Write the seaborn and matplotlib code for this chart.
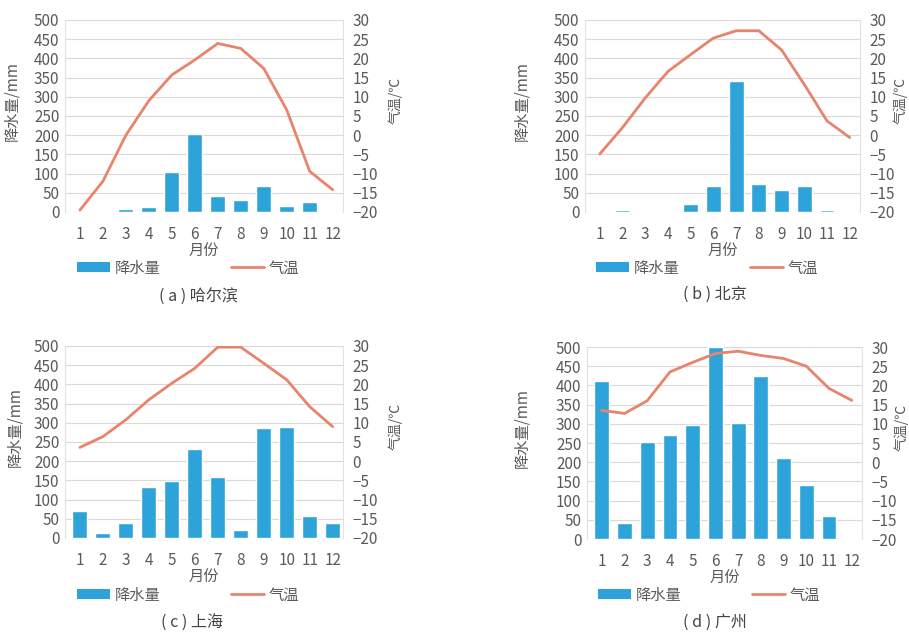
import numpy as np
import pandas as pd
import matplotlib
matplotlib.use("Agg")
import matplotlib.pyplot as plt
import seaborn as sns
from matplotlib.patches import Patch
from matplotlib.lines import Line2D

sns.set_theme(style="white")
plt.rcParams['font.family'] = ['Noto Sans CJK SC', 'DejaVu Sans']
plt.rcParams['axes.unicode_minus'] = True

months = [str(i) for i in range(1, 13)]

harbin_precip = [2, 3, 9, 14, 105, 204, 42, 31, 68, 15, 27, 2]
harbin_temp = [-19.5, -12.0, 0.0, 9.0, 15.7, 19.6, 23.9, 22.6, 17.4, 6.6, -9.4, -14.2]

beijing_precip = [0, 4, 0, 3, 20, 69, 342, 72, 56, 67, 4, 1]
beijing_temp = [-4.9, 2.0, 9.7, 16.6, 21.0, 25.3, 27.2, 27.2, 22.2, 13.2, 3.7, -0.6]

shanghai_precip = [70, 12, 40, 134, 149, 232, 158, 22, 286, 290, 56, 40]
shanghai_temp = [3.6, 6.4, 10.8, 16.0, 20.3, 24.2, 29.7, 29.7, 25.5, 21.2, 14.2, 9.0]

guangzhou_precip = [411, 42, 253, 272, 296, 500, 301, 425, 210, 140, 61, 3]
guangzhou_temp = [13.5, 12.7, 16.0, 23.5, 26.0, 28.3, 28.9, 27.8, 27.0, 25.0, 19.2, 16.1]

captions = ["( a ) 哈尔滨", "( b ) 北京", "( c ) 上海", "( d ) 广州"]
precip_ticks = [0, 50, 100, 150, 200, 250, 300, 350, 400, 450, 500]
temp_ticks = [-20, -15, -10, -5, 0, 5, 10, 15, 20, 25, 30]

BAR = "#2EA3DA"
LINE = "#E8836C"
TXT = "#5a5a5a"

W, H = 909, 633
fig = plt.figure(figsize=(W / 100, H / 100), dpi=100)

# panel pixel boxes: left, top, right, bottom
boxes = [(65, 20, 343, 212), (585, 20, 860, 212), (65, 346, 343, 538), (587, 347, 862, 539)]
legend_y = [268, 268, 595, 595]
legend_x = [188, 707, 188, 709]
caption_pos = [(198, 296), (715, 294), (192, 623), (715, 622)]
left_label_x = [20, 530, 23, 530]
right_label_x = [388, 893, 388, 894]

data = [(harbin_precip, harbin_temp), (beijing_precip, beijing_temp),
        (shanghai_precip, shanghai_temp), (guangzhou_precip, guangzhou_temp)]

for i, ((p, t), (l, tp, r, b)) in enumerate(zip(data, boxes)):
    ax = fig.add_axes([l / W, 1 - b / H, (r - l) / W, (b - tp) / H])
    df = pd.DataFrame({"月份": months, "降水量": p, "气温": t})
    sns.barplot(data=df, x="月份", y="降水量", color=BAR, saturation=1, width=0.65, ax=ax, zorder=2)
    ax.set_ylim(0, 500)
    ax.set_xlim(-0.65, 11.45)
    ax.set_yticks(precip_ticks)
    ax.yaxis.grid(True, color="#d9d9d9", lw=0.8, zorder=0)
    ax.set_axisbelow(True)
    ax.tick_params(axis="y", length=0, labelsize=11, labelcolor=TXT, pad=4)
    ax.tick_params(axis="x", length=0, labelsize=11, labelcolor=TXT, pad=10)
    ax.set_ylabel("降水量/mm", fontsize=11, color=TXT)
    ax.yaxis.set_label_coords((left_label_x[i] - l) / (r - l), 0.58)
    ax.set_xlabel("月份", fontsize=11, color=TXT, labelpad=0)
    for s in ["top", "bottom"]:
        ax.spines[s].set_visible(False)
    for s in ["left", "right"]:
        ax.spines[s].set_color("#e2e2e2")
        ax.spines[s].set_linewidth(0.8)

    ax2 = ax.twinx()
    sns.lineplot(x=np.arange(12), y=df["气温"], color=LINE, lw=2, ax=ax2, zorder=3)
    ax2.set_ylim(-20, 30)
    ax2.set_yticks(temp_ticks)
    ax2.tick_params(axis="y", length=0, labelsize=11, labelcolor=TXT, pad=7)
    ax2.set_ylabel("气温/℃", fontsize=10, color=TXT, rotation=90)
    ax2.yaxis.set_label_coords((right_label_x[i] - l) / (r - l), 0.58)
    for s in ["top", "bottom", "left", "right"]:
        ax2.spines[s].set_visible(False)
    ax2.set_xlim(-0.65, 11.45)

    handles = [Patch(facecolor=BAR, edgecolor="none"), Line2D([0], [0], color=LINE, lw=2)]
    fig.legend(handles, ["降水量", "气温"], loc="center",
               bbox_to_anchor=(legend_x[i] / W, 1 - legend_y[i] / H),
               ncol=2, frameon=False, fontsize=11, handlelength=2.2, handleheight=0.55,
               handletextpad=0.3, columnspacing=4.6, labelcolor=TXT)
    cx, cy = caption_pos[i]
    fig.text(cx / W, 1 - cy / H, captions[i], ha="center", va="center", fontsize=11.5, color="#444444")

fig.savefig("out.png", dpi=100)
